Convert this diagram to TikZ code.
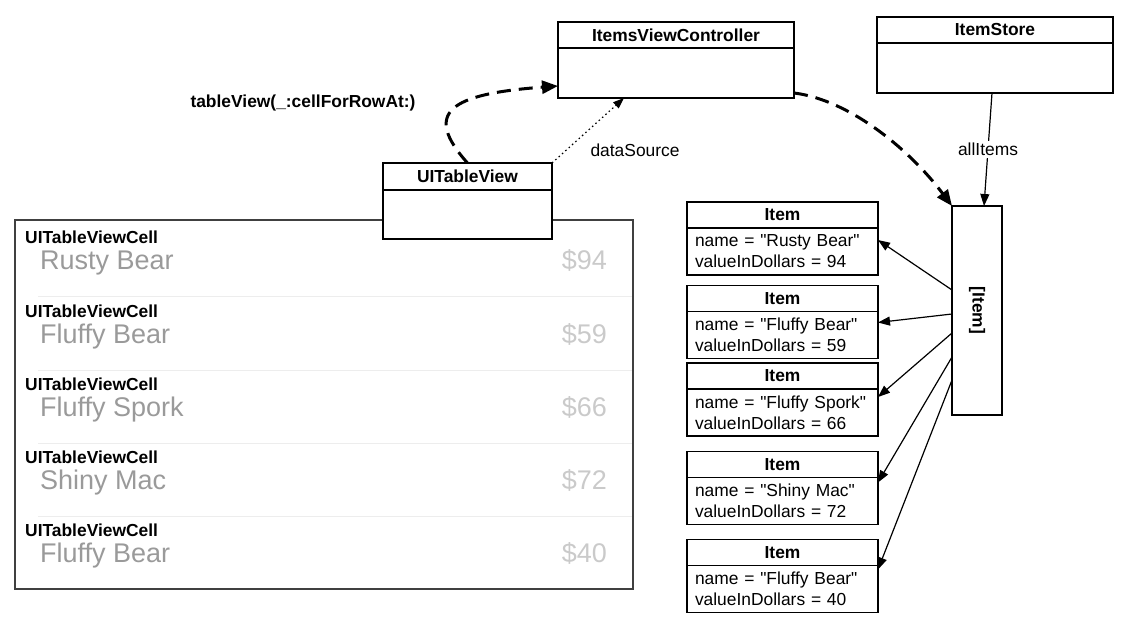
\documentclass[tikz,border=0pt]{standalone}
\usepackage{fontspec}
\setmainfont{Liberation Sans}
\usetikzlibrary{arrows.meta, calc}

\definecolor{namegray}{HTML}{9A9A9A}
\definecolor{pricegray}{HTML}{CACACA}
\definecolor{sepgray}{HTML}{EDEDED}

\tikzset{
  classhead/.style={draw, line width=1.2pt, fill=white, inner sep=0pt, outer sep=0pt,
    minimum height=26pt, font=\fontsize{17.4}{21}\selectfont\bfseries},
  classbody/.style={draw, line width=1.2pt, fill=white, inner sep=0pt, outer sep=0pt, minimum height=50pt},
  itemhead/.style={classhead, minimum width=191pt},
  itembody/.style={classbody, minimum width=191pt, minimum height=47pt,
    align=left, text width=175pt, inner xsep=8pt},
  celltitle/.style={anchor=base west, inner sep=0pt, font=\fontsize{17.4}{21}\selectfont\bfseries},
  cellname/.style={anchor=base west, inner sep=0pt, text=namegray, font=\fontsize{27}{30}\selectfont},
  cellprice/.style={anchor=base east, inner sep=0pt, text=pricegray, font=\fontsize{27}{30}\selectfont},
  msg/.style={line width=3pt, dash pattern=on 14pt off 8pt, -{Triangle[length=16pt,width=13pt]}},
  ref/.style={line width=1.2pt, -{Triangle[length=12pt,width=9pt]}},
  weak/.style={line width=1.2pt, dash pattern=on 1.5pt off 3pt, -{Triangle[length=11pt,width=8pt]}}
}
\newcommand{\qt}[1]{\textquotedbl#1\textquotedbl}

\begin{document}
\begin{tikzpicture}[x=1pt, y=-1pt, font=\fontsize{17.4}{21}\selectfont]
        \useasboundingbox (0,0) rectangle (1133,628);
        
        % table with its cells
        \draw[line width=1.2pt, draw=black!75] (15,220) rectangle (633,589);
        \foreach \i/\nm/\pr in {0/Rusty Bear/94, 1/Fluffy Bear/59, 2/Fluffy Spork/66, 3/Shiny Mac/72, 4/Fluffy Bear/40} {
            \node[celltitle] (cell\i) at (25,244+73.2*\i) {UITableViewCell};
            \node[cellname] (name\i) at (40,270+73.2*\i) {\nm};
            \node[cellprice] (price\i) at (607,270+73.2*\i) {\$\pr};
        }
        \foreach \y in {297,370.2,443.4,516.6}
            \draw[sepgray, line width=1pt] (38,\y) -- (632,\y);
        
        \node[classhead, minimum width=236pt] (IVCh) at (676,35) {ItemsViewController};
        \node[classbody, minimum width=236pt, anchor=north] (IVCb) at (IVCh.south) {};
        
        \node[classhead, minimum width=236pt] (ISh) at (995,30) {ItemStore};
        \node[classbody, minimum width=236pt, anchor=north] (ISb) at (ISh.south) {};
        
        \node[classhead, minimum width=169pt, minimum height=27pt] (TVh) at (467.5,176.5) {UITableView};
        \node[classbody, minimum width=169pt, minimum height=49pt, anchor=north] (TVb) at (TVh.south) {};
        
        \node[itemhead] (I1h) at (782.5,215) {Item};
        \node[itembody, anchor=north] (I1) at (I1h.south) {name = \qt{Rusty Bear}\\valueInDollars = 94};
        \node[itemhead] (I2h) at (782.5,298.5) {Item};
        \node[itembody, anchor=north] (I2) at (I2h.south) {name = \qt{Fluffy Bear}\\valueInDollars = 59};
        \node[itemhead] (I3h) at (782.5,376) {Item};
        \node[itembody, anchor=north] (I3) at (I3h.south) {name = \qt{Fluffy Spork}\\valueInDollars = 66};
        \node[itemhead] (I4h) at (782.5,464.5) {Item};
        \node[itembody, anchor=north] (I4) at (I4h.south) {name = \qt{Shiny Mac}\\valueInDollars = 72};
        \node[itemhead] (I5h) at (782.5,552.5) {Item};
        \node[itembody, anchor=north] (I5) at (I5h.south) {name = \qt{Fluffy Bear}\\valueInDollars = 40};
        
        \node[draw, line width=1.2pt, minimum width=50pt, minimum height=209pt, inner sep=0pt, outer sep=0pt] (Arr) at (977,310.5) {};
        \node[rotate=-90, font=\fontsize{17.4}{21}\selectfont\bfseries] (ArrT) at (Arr) {[Item]};
        
        % connectors
        \draw[ref] ([xshift=-3pt]ISb.south) -- node[fill=white, inner sep=2pt] (allItems) {allItems} ([xshift=7pt]Arr.north);
        
        \draw[ref] ([yshift=-84pt]Arr.north west) -- ([yshift=-12pt]I1.north east);
        \draw[ref] ([yshift=-108pt]Arr.north west) -- ([yshift=-11pt]I2.north east);
        \draw[ref] ([yshift=-127pt]Arr.north west) -- ([yshift=-8pt]I3.north east);
        \draw[ref] ([yshift=-151pt]Arr.north west) -- ([yshift=-5pt]I4.north east);
        \draw[ref] ([yshift=-174pt]Arr.north west) -- ([yshift=-4pt]I5.north east);
        
        \draw[msg] ([yshift=5pt]IVCb.south east) .. controls (850,100) and (910,150) .. (Arr.north west);
        \draw[msg] (TVh.north) .. controls (422,112) and (450,94) .. ([yshift=-38pt]IVCb.north west);
        \node[font=\fontsize{17.4}{21}\selectfont\bfseries] (cellFor) at (303,103) {tableView(\_:cellForRowAt:)};
        
        \draw[weak] (TVh.north east) -- ([xshift=-52pt]IVCb.south);
        \node[anchor=west] (dataSrc) at (587,150) {dataSource};
    \end{tikzpicture}
\end{document}
